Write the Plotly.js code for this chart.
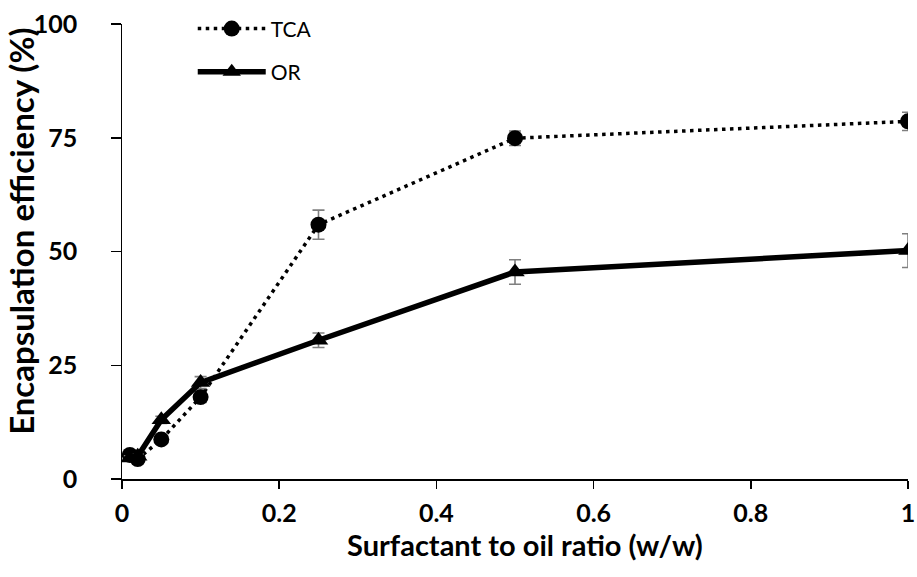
<!DOCTYPE html>
<html>
<head>
<meta charset="utf-8">
<script src="https://cdn.plot.ly/plotly-3.0.1.min.js"></script>
<style>html,body{margin:0;padding:0;background:#fff;}#chart{width:917px;height:577px;}</style>
</head>
<body>
<div id="chart"></div>
<script>
// Surfactant to oil ratio (w/w)
const ratio = [0.01, 0.02, 0.05, 0.1, 0.25, 0.5, 1];
// Encapsulation efficiency (%)
const tcaValues = [5.3, 4.4, 8.7, 18.0, 55.9, 74.9, 78.6];
const tcaErrors = [0.5, 0.5, 0.6, 1.2, 3.2, 1.6, 2.0];
const orValues  = [4.6, 5.0, 13.0, 21.2, 30.5, 45.5, 50.2];
const orErrors  = [0.5, 0.5, 0.8, 1.3, 1.6, 2.7, 3.7];
const seriesNames = ['TCA', 'OR'];
const xTitle = 'Surfactant to oil ratio (w/w)';
const yTitle = 'Encapsulation efficiency (%)';

const FONT = 'Lato, "Open Sans", "Liberation Sans", sans-serif';
const errColor = '#7f7f7f';

const traces = [
  {
    x: ratio, y: tcaValues, name: seriesNames[0], type: 'scatter', mode: 'lines+markers',
    line: {color: '#000', width: 3.5, dash: '3.5px,4.5px'},
    marker: {symbol: 'circle', size: 16, color: '#000'},
    error_y: {type: 'data', array: tcaErrors, visible: true, color: errColor, thickness: 1.6, width: 6},
    legend: 'legend'
  },
  {
    x: ratio, y: orValues, name: seriesNames[1], type: 'scatter', mode: 'lines+markers',
    line: {color: '#000', width: 5.5},
    marker: {symbol: 'triangle-up', size: 17, color: '#000'},
    error_y: {type: 'data', array: orErrors, visible: true, color: errColor, thickness: 1.6, width: 6},
    legend: 'legend2'
  }
];

const tickFont = {family: FONT, size: 25, color: '#000', weight: 'bold'};
const legFont = {family: FONT, size: 21, color: '#000'};

const layout = {
  width: 917, height: 577,
  margin: {l: 122, r: 9, t: 23, b: 98},
  paper_bgcolor: '#fff', plot_bgcolor: '#fff',
  font: {family: FONT, color: '#000'},
  xaxis: {
    range: [0, 1], dtick: 0.2, tick0: 0, showgrid: false, zeroline: false,
    showline: true, linecolor: '#000', linewidth: 1.5,
    ticks: 'outside', ticklen: 8, tickwidth: 1.5, tickcolor: '#000',
    tickfont: tickFont, ticklabelstandoff: 3
  },
  yaxis: {
    range: [0, 100], dtick: 25, tick0: 0, showgrid: false, zeroline: false,
    showline: true, linecolor: '#000', linewidth: 1.5,
    ticks: 'outside', ticklen: 10, tickwidth: 1.5, tickcolor: '#000',
    tickfont: tickFont, ticklabelstandoff: 22, ticksuffix: '\u2009\u2009'
  },
  showlegend: true,
  legend: {x: 0.09, y: 0.987, xanchor: 'left', yanchor: 'middle', bgcolor: 'rgba(0,0,0,0)', font: legFont, itemwidth: 68, borderwidth: 0},
  legend2: {x: 0.09, y: 0.8925, xanchor: 'left', yanchor: 'middle', bgcolor: 'rgba(0,0,0,0)', font: legFont, itemwidth: 68, borderwidth: 0},
  annotations: [
    {text: yTitle, xref: 'paper', yref: 'paper', x: -0.128, y: 0.544, xanchor: 'center', yanchor: 'middle',
     textangle: -90, showarrow: false, font: {family: FONT, size: 33, color: '#000', weight: 'bold'}},
    {text: xTitle, xref: 'paper', yref: 'paper', x: 0.513, y: -0.143, xanchor: 'center', yanchor: 'middle',
     showarrow: false, font: {family: FONT, size: 29, color: '#000', weight: 'bold'}}
  ]
};

Plotly.newPlot('chart', traces, layout, {displayModeBar: false, staticPlot: true});
</script>
</body>
</html>
